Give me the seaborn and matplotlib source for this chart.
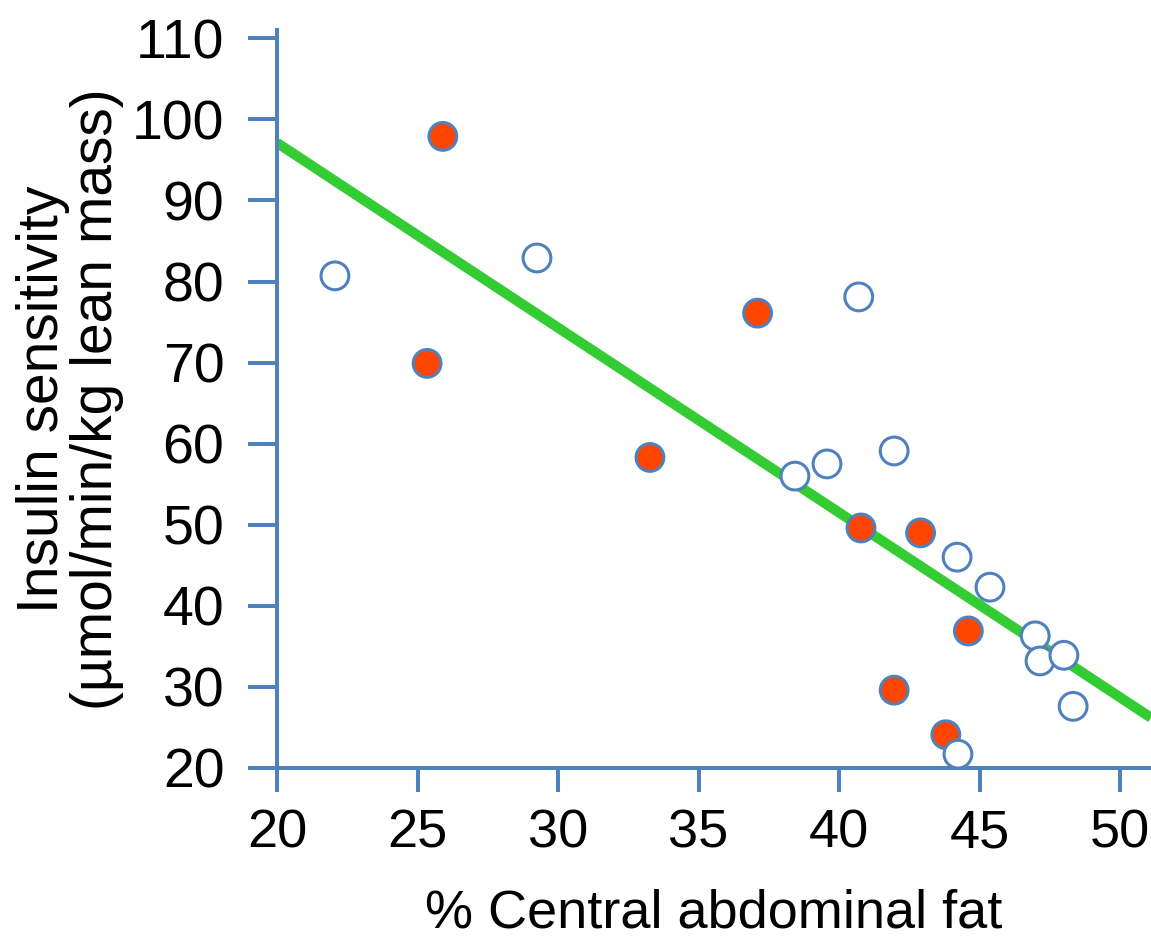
import pandas as pd
import seaborn as sns
import matplotlib.pyplot as plt

# values
filled_x = [25.9, 25.34, 37.1, 33.27, 40.78, 42.9, 44.6, 41.96, 43.8]
filled_y = [97.9, 69.9, 76.1, 58.3, 49.6, 49.0, 36.9, 29.6, 24.1]

open_x = [22.06, 29.25, 40.7, 41.96, 39.57, 38.43, 44.2, 45.37, 46.98, 47.15, 48.0, 48.33, 44.23]
open_y = [80.7, 82.9, 78.1, 59.1, 57.5, 56.0, 46.0, 42.3, 36.3, 33.2, 33.9, 27.6, 21.7]

# trend line end points
line_x = [20.0, 51.1]
line_y = [97.1, 26.2]

x_ticks = [20, 25, 30, 35, 40, 45, 50]
y_ticks = [20, 30, 40, 50, 60, 70, 80, 90, 100, 110]

blue = '#4F81BD'
orange = '#FF4500'
green = '#33CC33'

df = pd.concat([
    pd.DataFrame({'fat': filled_x, 'sens': filled_y, 'group': 'filled'}),
    pd.DataFrame({'fat': open_x, 'sens': open_y, 'group': 'open'}),
], ignore_index=True)

sns.set_style('white')
plt.rcParams['font.family'] = ['Liberation Sans', 'DejaVu Sans']
plt.rcParams['text.color'] = 'black'
plt.rcParams['axes.labelcolor'] = 'black'

fig = plt.figure(figsize=(11.51, 9.43), dpi=100)
ax = fig.add_axes([0.2407, 0.1856, 0.7593, 0.7824])

sns.lineplot(x=line_x, y=line_y, ax=ax, color=green, linewidth=7.3,
             solid_capstyle='butt', zorder=2)
sns.scatterplot(data=df, x='fat', y='sens', hue='group', ax=ax,
                palette={'filled': orange, 'open': 'white'},
                edgecolor=blue, linewidth=2.2, s=400, legend=False, zorder=3)

ax.set_xlim(20, 51.1)
ax.set_ylim(20, 111)
ax.set_xticks(x_ticks)
ax.set_yticks(y_ticks)

for side in ['top', 'right']:
    ax.spines[side].set_visible(False)
for side in ['left', 'bottom']:
    ax.spines[side].set_color(blue)
    ax.spines[side].set_linewidth(2.9)

ax.tick_params(axis='y', direction='out', length=21, width=2.9, color=blue,
               labelsize=40, pad=17, left=True, labelcolor='black')
ax.tick_params(axis='x', direction='out', length=17, width=2.9, color=blue,
               labelsize=39, pad=12, bottom=True, labelcolor='black')

ax.set_xlabel('% Central abdominal fat', fontsize=39, labelpad=22)
ax.set_ylabel('Insulin sensitivity\n(µmol/min/kg lean mass)', fontsize=41,
              labelpad=6, linespacing=1.0)

fig.savefig('out.png', dpi=100)
